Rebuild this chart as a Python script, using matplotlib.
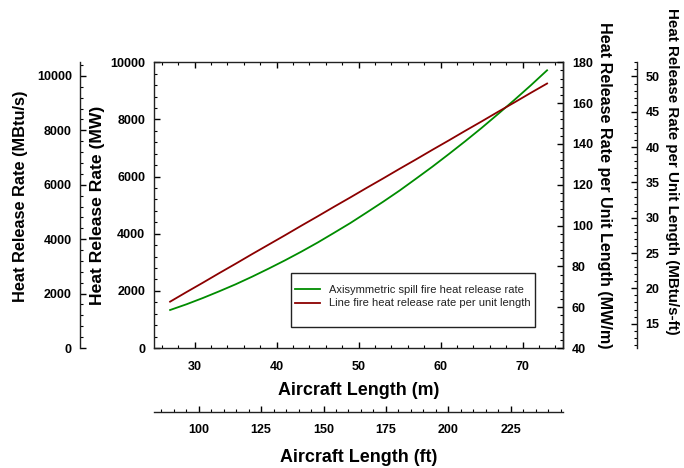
import matplotlib
matplotlib.use("Agg")
import numpy as np
import matplotlib.pyplot as plt
from matplotlib.ticker import MultipleLocator
from matplotlib.patches import Rectangle

plt.rcParams['font.family'] = ['Liberation Sans', 'DejaVu Sans']

# aircraft length (m)
length_m = [27, 29, 31, 33, 35, 37, 39, 41, 43, 45, 47, 49, 51, 53,
            55, 57, 59, 61, 63, 65, 67, 69, 71, 73]
# axisymmetric spill fire heat release rate (MW)
hrr_spill = [1330, 1530, 1750, 1985, 2230, 2495, 2775, 3065, 3370, 3690,
             4030, 4375, 4745, 5120, 5510, 5925, 6345, 6785, 7235, 7700,
             8185, 8680, 9190, 9720]
# line fire heat release rate per unit length (MW/m)
hrr_line = [62.7, 67.4, 72.0, 76.7, 81.3, 86.0, 90.6, 95.2, 99.9, 104.5,
            109.2, 113.8, 118.5, 123.1, 127.8, 132.4, 137.1, 141.7, 146.4,
            151.0, 155.7, 160.3, 165.0, 169.6]

M_TO_FT = 3.2808
MW_TO_MBTU = 1.05   # scale used for the MBtu/s axis
MWM_TO_MBTUFT = 1.055 * 3.2808

xlim = (25, 75)
ylim_mw = (0, 10000)
ylim_mwm = (40, 180)

W, H = 684, 468
fig = plt.figure(figsize=(W / 100, H / 100), dpi=100)
ax = fig.add_axes([0.2247, 0.2564, 0.5991, 0.6105])

green = '#008c00'
red = '#8b0000'
l1, = ax.plot(length_m, hrr_spill, color=green, lw=1.3,
              label='Axisymmetric spill fire heat release rate')
ax.set_xlim(*xlim)
ax.set_ylim(*ylim_mw)

ax_r = ax.twinx()
l2, = ax_r.plot(length_m, hrr_line, color=red, lw=1.3,
                label='Line fire heat release rate per unit length')
ax_r.set_ylim(*ylim_mwm)

# secondary unit axes
ax_btu = ax.twinx()
ax_btu.set_ylim(ylim_mw[0] * MW_TO_MBTU, ylim_mw[1] * MW_TO_MBTU)
ax_btu.yaxis.set_ticks_position('left')
ax_btu.yaxis.set_label_position('left')
ax_btu.spines['left'].set_position(('outward', 53))

ax_btuft = ax.twinx()
ax_btuft.set_ylim(ylim_mwm[0] / MWM_TO_MBTUFT, ylim_mwm[1] / MWM_TO_MBTUFT)
ax_btuft.spines['right'].set_position(('outward', 53))

ax_ft = ax.twiny()
ax_ft.set_xlim(xlim[0] * M_TO_FT, xlim[1] * M_TO_FT)
ax_ft.xaxis.set_ticks_position('bottom')
ax_ft.xaxis.set_label_position('bottom')
ax_ft.spines['bottom'].set_position(('outward', 46))

for a in (ax_btu, ax_btuft, ax_ft, ax_r):
    for s in a.spines.values():
        s.set_visible(False)
ax_btu.spines['left'].set_visible(True)
ax_btuft.spines['right'].set_visible(True)
ax_ft.spines['bottom'].set_visible(True)
ax_r.spines['right'].set_visible(True)
for a in (ax, ax_r, ax_btu, ax_btuft, ax_ft):
    for s in a.spines.values():
        s.set_linewidth(1.0)
        s.set_color('#222222')

# ticks
ax.xaxis.set_major_locator(MultipleLocator(10))
ax.xaxis.set_minor_locator(MultipleLocator(2))
ax.yaxis.set_major_locator(MultipleLocator(2000))
ax.yaxis.set_minor_locator(MultipleLocator(400))
ax_r.yaxis.set_major_locator(MultipleLocator(20))
ax_r.yaxis.set_minor_locator(MultipleLocator(4))
ax_btu.yaxis.set_major_locator(MultipleLocator(2000))
ax_btu.yaxis.set_minor_locator(MultipleLocator(400))
ax_btuft.yaxis.set_major_locator(MultipleLocator(5))
ax_btuft.yaxis.set_minor_locator(MultipleLocator(1))
ax_ft.xaxis.set_major_locator(MultipleLocator(25))
ax_ft.xaxis.set_minor_locator(MultipleLocator(5))

ax.tick_params(axis='x', which='both', top=True, direction='in')
ax.tick_params(axis='y', which='both', direction='in')
for a in (ax, ax_r, ax_btu, ax_btuft, ax_ft):
    a.tick_params(which='major', length=4, width=1, direction='in',
                  labelsize=9, pad=6)
    a.tick_params(which='minor', length=2.5, width=0.8, direction='in')
    for lab in a.get_xticklabels() + a.get_yticklabels():
        lab.set_fontweight('bold')
ax.tick_params(axis='x', pad=9)
ax_ft.tick_params(axis='x', pad=9)
ax_ft.tick_params(axis='x', which='both', top=False)

ax.set_xlabel('Aircraft Length (m)', labelpad=7, fontsize=12.9,
              fontweight='bold')
ax_ft.set_xlabel('Aircraft Length (ft)', labelpad=9, fontsize=12.9,
                 fontweight='bold')
ax.set_ylabel('Heat Release Rate (MW)', labelpad=4, fontsize=12.6,
              fontweight='bold')
ax_btu.set_ylabel('Heat Release Rate (MBtu/s)', labelpad=6, fontsize=11.8,
                  fontweight='bold')
ax_btu.yaxis.label.set_y(0.53)
ax_r.set_ylabel('Heat Release Rate per Unit Length (MW/m)', rotation=270,
                labelpad=14, fontsize=11.6, fontweight='bold')
ax_r.yaxis.label.set_y(0.5705)
ax_btuft.set_ylabel('Heat Release Rate per Unit Length (MBtu/s-ft)',
                    rotation=270, labelpad=14, fontsize=10.9,
                    fontweight='bold')
ax_btuft.yaxis.label.set_y(0.618)

# legend box
box_l, box_t, box_r, box_b = 290.7, 273.3, 535.0, 326.7
fig.patches.append(Rectangle((box_l / W, 1 - box_b / H),
                             (box_r - box_l) / W, (box_b - box_t) / H,
                             transform=fig.transFigure, facecolor='white',
                             edgecolor='#222222', linewidth=1.0, zorder=5))
leg = fig.legend(handles=[l1, l2], loc='center',
                 bbox_to_anchor=((box_l + box_r) / 2 / W, 1 - 296.5 / H),
                 bbox_transform=fig.transFigure, fontsize=8,
                 frameon=False, handlelength=2.25, handletextpad=0.75,
                 borderpad=0.3, labelspacing=0.35)
leg.set_zorder(6)
for t in leg.get_texts():
    t.set_color('#222222')

fig.savefig('out.png', dpi=100)
